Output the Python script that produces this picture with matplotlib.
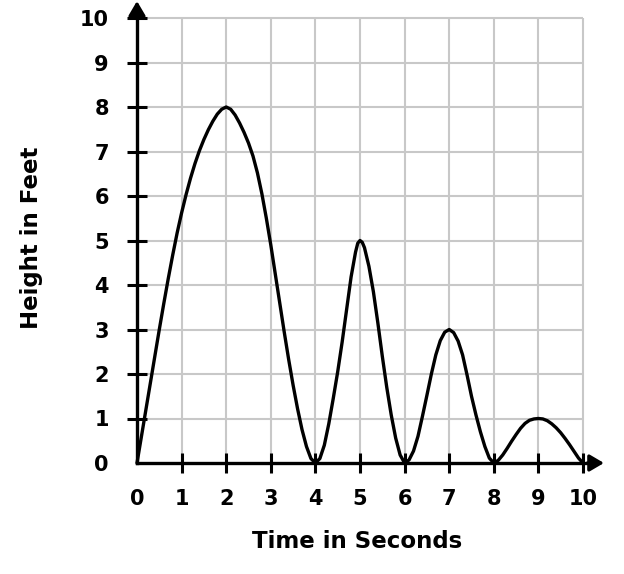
import matplotlib
matplotlib.use("Agg")
import matplotlib.pyplot as plt

# ── Data ──────────────────────────────────────────────────────────────────────
time_s = [
    0.0, 0.1, 0.2, 0.3, 0.4, 0.5, 0.6, 0.7, 0.8, 0.9,
    1.0, 1.1, 1.2, 1.3, 1.4, 1.5, 1.6, 1.7, 1.8, 1.9,
    2.0, 2.1, 2.2, 2.3, 2.4, 2.5, 2.6, 2.7, 2.8, 2.9,
    3.0, 3.1, 3.2, 3.3, 3.4, 3.5, 3.6, 3.7, 3.8, 3.9,
    4.0, 4.1, 4.2, 4.3, 4.4, 4.5, 4.6, 4.7, 4.8, 4.9, 4.95,
    5.0, 5.05, 5.1, 5.2, 5.3, 5.4, 5.5, 5.6, 5.7, 5.8, 5.9,
    6.0, 6.1, 6.2, 6.3, 6.4, 6.5, 6.6, 6.7, 6.8, 6.9,
    7.0, 7.1, 7.2, 7.3, 7.4, 7.5, 7.6, 7.7, 7.8, 7.9,
    8.0, 8.1, 8.2, 8.3, 8.4, 8.5, 8.6, 8.7, 8.8, 8.9,
    9.0, 9.1, 9.2, 9.3, 9.4, 9.5, 9.6, 9.7, 9.8, 9.9,
    10.0,
]
height_ft = [
    0.0, 0.6, 1.2, 1.8, 2.4, 3.0, 3.58, 4.14, 4.67, 5.17,
    5.62, 6.03, 6.4, 6.73, 7.02, 7.27, 7.49, 7.68, 7.84, 7.95,
    8.0, 7.95, 7.82, 7.64, 7.43, 7.19, 6.9, 6.52, 6.05, 5.5,
    4.9, 4.25, 3.6, 2.95, 2.33, 1.75, 1.22, 0.75, 0.37, 0.1,
    0.0, 0.1, 0.4, 0.88, 1.45, 2.05, 2.72, 3.45, 4.18, 4.74, 4.94,
    5.0, 4.96, 4.84, 4.42, 3.85, 3.15, 2.4, 1.7, 1.08, 0.56, 0.18,
    0.0, 0.07, 0.27, 0.6, 1.05, 1.52, 2.0, 2.43, 2.75, 2.94,
    3.0, 2.93, 2.74, 2.43, 1.98, 1.5, 1.08, 0.7, 0.37, 0.11,
    0.0, 0.06, 0.18, 0.33, 0.49, 0.64, 0.78, 0.89, 0.96, 0.99,
    1.0, 0.99, 0.95, 0.88, 0.79, 0.68, 0.55, 0.41, 0.26, 0.11,
    0.0,
]
x_ticks = list(range(0, 11))
y_ticks = list(range(0, 11))
x_label = "Time in Seconds"
y_label = "Height in Feet"

# ── Layout (pixels of the 624x574 reference) ─────────────────────────────────
W, H = 624, 574
X0_PX, PX_X = 137, 44.6      # x=0 position, pixels per second
Y0_PX, PX_Y = 463, 44.5      # y=0 position (from top), pixels per foot
XLIM = (-0.2, 10.6)
YLIM = (-0.3, 10.4)

left = (X0_PX + XLIM[0] * PX_X) / W
width = (XLIM[1] - XLIM[0]) * PX_X / W
bottom = (H - (Y0_PX - YLIM[0] * PX_Y)) / H
height = (YLIM[1] - YLIM[0]) * PX_Y / H

fig = plt.figure(figsize=(W / 100, H / 100), dpi=100)
ax = fig.add_axes([left, bottom, width, height])
ax.set_xlim(*XLIM)
ax.set_ylim(*YLIM)

# grid only inside the 0..10 box
grid_c = "#c8c8c8"
ax.vlines(x_ticks[1:], 0, 10, colors=grid_c, lw=1.5, zorder=1)
ax.hlines(y_ticks[1:], 0, 10, colors=grid_c, lw=1.5, zorder=1)

# curve
ax.plot(time_s, height_ft, color="black", lw=2.4, zorder=3,
        solid_joinstyle="round", solid_capstyle="round")

# axes through the origin
for side in ("top", "right"):
    ax.spines[side].set_visible(False)
ax.spines["left"].set_position(("data", 0))
ax.spines["bottom"].set_position(("data", 0))
ax.spines["left"].set_bounds(0, 10.1)
ax.spines["bottom"].set_bounds(0, 10.2)
for side in ("left", "bottom"):
    ax.spines[side].set_linewidth(2.4)
    ax.spines[side].set_zorder(4)

arrow = dict(arrowstyle="-|>,head_length=0.85,head_width=0.5",
             mutation_scale=10, lw=2.4, color="black",
             shrinkA=0, shrinkB=0)
ax.annotate("", xy=(10.47, 0), xytext=(10.1, 0), arrowprops=arrow,
            annotation_clip=False, zorder=5)
ax.annotate("", xy=(0, 10.38), xytext=(0, 10.0), arrowprops=arrow,
            annotation_clip=False, zorder=5)

ax.set_xticks(x_ticks)
ax.set_yticks(y_ticks)
ax.set_xticklabels([str(v) for v in x_ticks])
ax.set_yticklabels([str(v) for v in y_ticks])
ax.tick_params(axis="both", direction="inout", length=14.4, width=2.2,
               labelsize=15)
ax.tick_params(axis="x", pad=11.5)
ax.tick_params(axis="y", pad=13)
for lab in ax.get_xticklabels() + ax.get_yticklabels():
    lab.set_fontweight("bold")
ax.xaxis.get_major_ticks()[0].tick1line.set_visible(False)
ax.yaxis.get_major_ticks()[0].tick1line.set_visible(False)

fig.text(357 / W, 1 - 541 / H, x_label, ha="center", va="center",
         fontsize=16.5, fontweight="bold")
fig.text(32 / W, 1 - 238 / H, y_label, ha="center", va="center",
         rotation=90, fontsize=16.5, fontweight="bold")

fig.savefig("out.png", dpi=100)
plt.close(fig)
